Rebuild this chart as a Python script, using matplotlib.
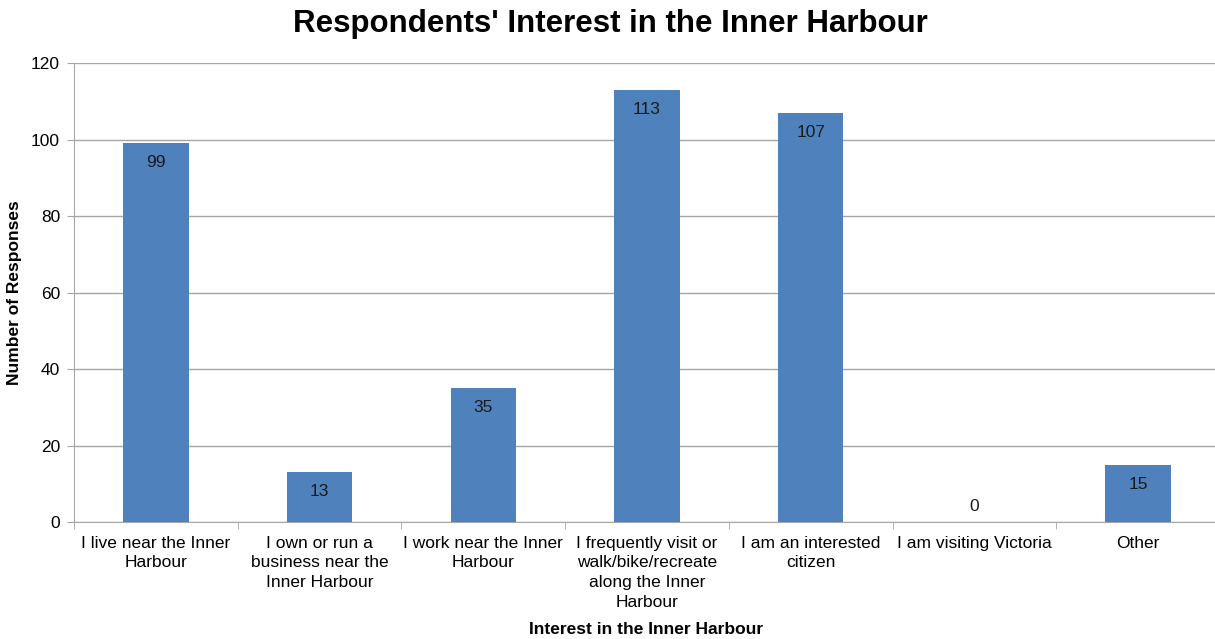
import matplotlib
matplotlib.use("Agg")
import matplotlib.pyplot as plt
import numpy as np

categories = [
    "I live near the Inner\nHarbour",
    "I own or run a\nbusiness near the\nInner Harbour",
    "I work near the Inner\nHarbour",
    "I frequently visit or\nwalk/bike/recreate\nalong the Inner\nHarbour",
    "I am an interested\ncitizen",
    "I am visiting Victoria",
    "Other",
]
responses = [99, 13, 35, 113, 107, 0, 15]
y_ticks = [0, 20, 40, 60, 80, 100, 120]

plt.rcParams['font.family'] = ['Liberation Sans', 'DejaVu Sans']

fig = plt.figure(figsize=(12.15, 6.39), dpi=100)
ax = fig.add_axes([74/1215, 1-522/639, 1146/1215, (522-63)/639])

x = np.arange(len(categories))
bars = ax.bar(x, responses, width=0.4, color='#4F81BD', zorder=3)

ax.set_xlim(-0.5, len(categories)-0.5)
ax.set_ylim(0, 120)
ax.set_yticks(y_ticks)
ax.set_yticklabels([str(v) for v in y_ticks], fontsize=12.5)
ax.yaxis.grid(True, color='#A6A6A6', linewidth=1, zorder=0)
ax.set_axisbelow(True)

ax.set_xticks(x)
ax.set_xticklabels(categories, fontsize=12.5, linespacing=1.38)
ax.tick_params(axis='x', length=0, pad=10)
ax.set_xticks(np.arange(len(categories)+1)-0.5, minor=True)
ax.tick_params(axis='x', which='minor', length=5, color='#A6A6A6')
ax.tick_params(axis='y', length=5, color='#A6A6A6', pad=5)

for s in ['top', 'right']:
    ax.spines[s].set_visible(False)
for s in ['left', 'bottom']:
    ax.spines[s].set_color('#A6A6A6')

for xi, v in zip(x, responses):
    if v > 0:
        ax.annotate(str(v), (xi, v), xytext=(0, -14), textcoords='offset points',
                    ha='center', va='center', fontsize=12.5, color='#1a1a1a', zorder=4)
    else:
        ax.annotate(str(v), (xi, v), xytext=(0, 11), textcoords='offset points',
                    ha='center', va='center', fontsize=12.5, color='#1a1a1a', zorder=4)

fig.text(15/1215, 1-293/639, "Number of Responses", rotation=90,
         ha='center', va='center', fontsize=12.5, fontweight='bold')
fig.text(646/1215, 1-629/639, "Interest in the Inner Harbour",
         ha='center', va='center', fontsize=12.5, fontweight='bold')
fig.text(610/1215, 1-24/639, "Respondents' Interest in the Inner Harbour",
         ha='center', va='center', fontsize=22.5, fontweight='bold')

fig.savefig("out.png", dpi=100)
